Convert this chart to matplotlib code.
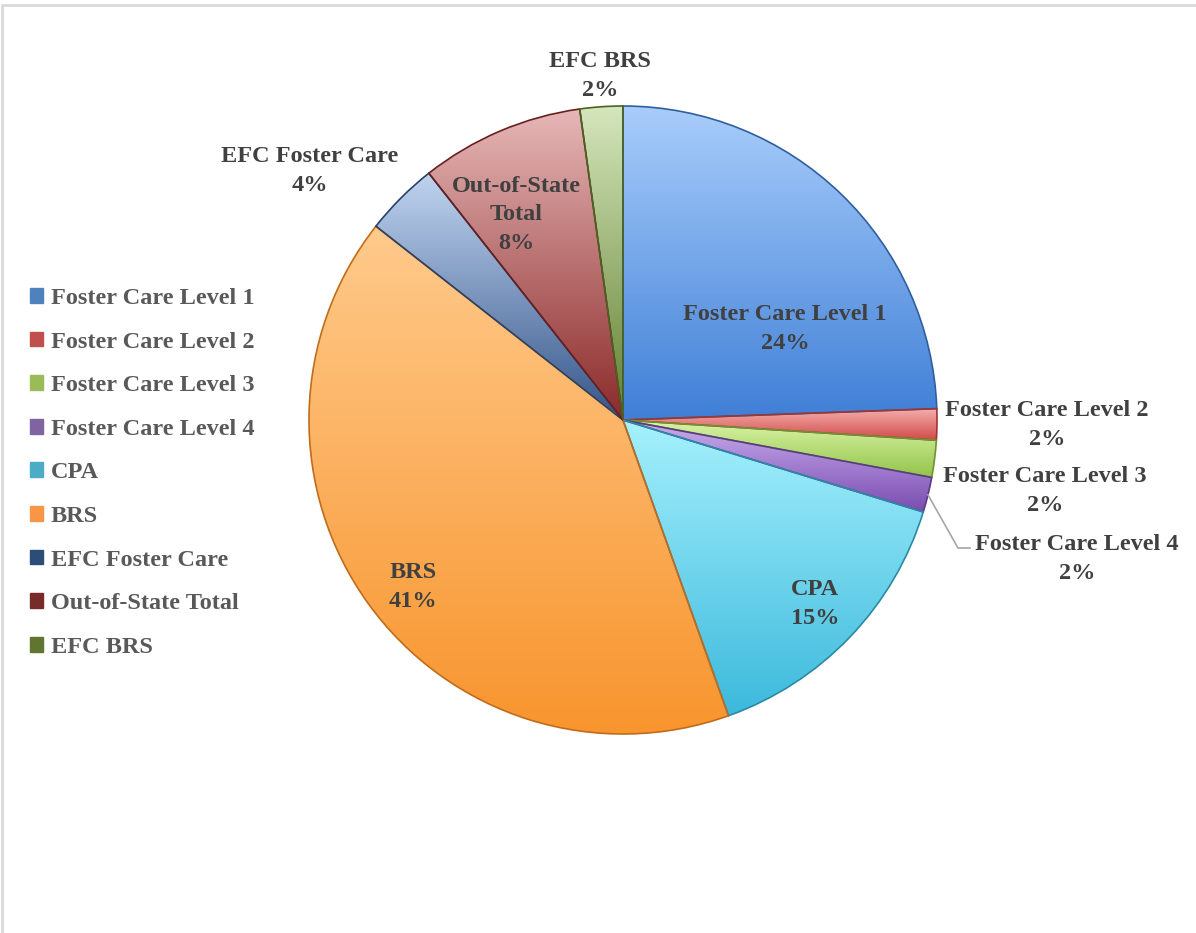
import numpy as np
import matplotlib.pyplot as plt
from matplotlib.colors import LinearSegmentedColormap
from matplotlib.patches import Patch

# data
categories = ["Foster Care Level 1", "Foster Care Level 2", "Foster Care Level 3",
              "Foster Care Level 4", "CPA", "BRS", "EFC Foster Care",
              "Out-of-State Total", "EFC BRS"]
shares = [24.4, 1.6, 1.9, 1.8, 14.8, 41.0, 3.8, 8.4, 2.2]

# label text as shown on the chart (line breaks)
label_names = ["Foster Care Level 1", "Foster Care Level 2", "Foster Care Level 3",
               "Foster Care Level 4", "CPA", "BRS", "EFC Foster Care",
               "Out-of-State\nTotal", "EFC BRS"]

# styles
legend_colors = ["#4F81BD", "#C0504D", "#9BBB59", "#8064A2", "#4BACC6",
                 "#F79646", "#2C4D75", "#772C2A", "#5F7530"]
top_colors = ["#a9cdfb", "#f5b0ae", "#dcf5a8", "#c9aef0", "#a6f1fd",
              "#ffca8c", "#c0d4ef", "#e6b7b7", "#d5e6bd"]
bottom_colors = ["#3f7fd6", "#d14b48", "#92c44a", "#7a4cb0", "#3cb9dc",
                 "#f8952e", "#35568a", "#8c2a2a", "#62802f"]
edge_colors = ["#2f5f9e", "#9c3533", "#6f9233", "#5c3a88", "#2a8aa6",
               "#c06c1c", "#27416a", "#6a1f1f", "#4a6224"]

W, H = 1196, 933
# label centres in pixel coords (layout)
label_pos = [(785, 329), (1047, 425), (1045, 491), (1077, 559), (815, 604),
             (413, 587), (310, 171), (516, 215), (600, 76)]

plt.rcParams['font.family'] = ['Liberation Serif', 'DejaVu Serif']
fig = plt.figure(figsize=(W / 100, H / 100), dpi=100)
ax = fig.add_axes([0, 0, 1, 1])

cx, cy, R = 623, H - 420, 314
wedges, _ = ax.pie(shares, startangle=90, counterclock=False,
                   center=(cx, cy), radius=R,
                   wedgeprops=dict(linewidth=1.2))

for i, w in enumerate(wedges):
    ext = w.get_path().get_extents()
    cmap = LinearSegmentedColormap.from_list("g%d" % i, [bottom_colors[i], top_colors[i]])
    grad = np.linspace(0, 1, 256).reshape(-1, 1)
    im = ax.imshow(grad, extent=[ext.x0, ext.x1, ext.y0, ext.y1], origin='lower',
                   cmap=cmap, aspect='auto', zorder=1, interpolation='bilinear')
    im.set_clip_path(w)
    w.set_facecolor('none')
    w.set_edgecolor(edge_colors[i])
    w.set_zorder(2)

total = sum(shares)
for i, w in enumerate(wedges):
    txt = "%s\n%.0f%%" % (label_names[i], shares[i] / total * 100)
    x, y = label_pos[i]
    ax.text(x, H - y, txt, ha='center', va='center', fontsize=17.5,
            fontweight='bold', color='#404040', linespacing=1.45, zorder=5)

# leader line for Foster Care Level 4
w4 = wedges[3]
mid = np.deg2rad((w4.theta1 + w4.theta2) / 2)
x0, y0 = cx + R * np.cos(mid), cy + R * np.sin(mid)
ax.plot([x0, 958, 970], [y0, H - 548, H - 548], color='#a6a6a6', lw=1.2, zorder=4)

handles = [Patch(facecolor=c, edgecolor=c) for c in legend_colors]
leg = ax.legend(handles, categories, loc='upper left',
                bbox_to_anchor=(30 / W, 1 - 288 / H), frameon=False,
                borderpad=0, borderaxespad=0, handlelength=0.55, handleheight=0.55,
                handletextpad=0.3, labelspacing=0.93,
                prop=dict(family=['Liberation Serif'], weight='bold', size=17.5))
for t in leg.get_texts():
    t.set_color('#595959')

# chart frame
ax.plot([1.5, 1.5, W + 5], [0, H - 5, H - 5], color='#d9d9d9', lw=2, zorder=6)

ax.set_xlim(0, W)
ax.set_ylim(0, H)
ax.set_aspect('equal')
ax.axis('off')

fig.savefig("out.png", dpi=100)
